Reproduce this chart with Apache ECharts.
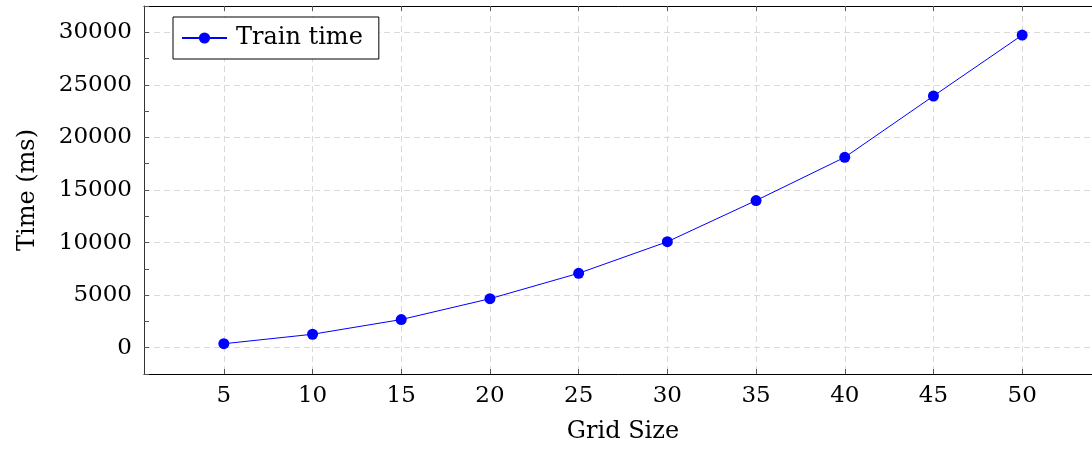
<!DOCTYPE html>
<html>
<head>
<meta charset="utf-8">
<script src="https://cdn.jsdelivr.net/npm/echarts@6/dist/echarts.min.js"></script>
<style>
  html, body { margin: 0; padding: 0; background: #fff; }
  #chart { width: 1092px; height: 450px; }
</style>
</head>
<body>
<div id="chart"></div>
<script>
// Training time per grid size
const gridSizes = [5, 10, 15, 20, 25, 30, 35, 40, 45, 50];
const trainTimeMs = [380, 1280, 2680, 4660, 7080, 10080, 14000, 18110, 23940, 29730];
const xTickValues = [5, 10, 15, 20, 25, 30, 35, 40, 45, 50];
const yTickValues = [0, 5000, 10000, 15000, 20000, 25000, 30000];

const FONT = 'DejaVu Serif';
const gridLineStyle = { color: '#dadada', width: 1, type: [6, 4] };
const plain = v => String(v);

const chart = echarts.init(document.getElementById('chart'), null, { renderer: 'canvas' });

chart.setOption({
  animation: false,
  backgroundColor: '#fff',
  grid: { left: 144, top: 6, right: -10, bottom: 76, containLabel: false, outerBoundsMode: 'none' },
  legend: {
    left: 173,
    top: 17,
    orient: 'vertical',
    backgroundColor: '#fff',
    borderColor: '#000',
    borderWidth: 1,
    borderRadius: 0,
    padding: [9, 16, 9, 8],
    itemWidth: 45,
    itemHeight: 14,
    textStyle: { fontFamily: FONT, fontSize: 24, color: '#000', padding: [0, 0, 0, 4] },
    data: ['Train time']
  },
  xAxis: [
    {
      type: 'value',
      position: 'bottom',
      min: 0.5,
      max: 54.5,
      name: 'Grid Size',
      nameLocation: 'middle',
      nameGap: 46,
      nameTextStyle: { fontFamily: FONT, fontSize: 24, color: '#000' },
      axisLine: { show: true, onZero: false, lineStyle: { color: '#000', width: 1 } },
      axisTick: { show: true, inside: true, length: 5, customValues: xTickValues, lineStyle: { color: '#555' } },
      axisLabel: { show: true, customValues: xTickValues, formatter: plain, fontFamily: FONT, fontSize: 23, color: '#000', margin: 11 },
      splitLine: { show: true, lineStyle: gridLineStyle }
    },
    {
      type: 'value',
      position: 'top',
      min: 0.5,
      max: 54.5,
      axisLine: { show: true, onZero: false, lineStyle: { color: '#000', width: 1 } },
      axisTick: { show: true, inside: true, length: 5, customValues: xTickValues, lineStyle: { color: '#555' } },
      axisLabel: { show: false },
      splitLine: { show: false }
    }
  ],
  yAxis: [
    {
      type: 'value',
      position: 'left',
      min: -2500,
      max: 32500,
      name: 'Time (ms)',
      nameLocation: 'middle',
      nameGap: 104,
      nameTextStyle: { fontFamily: FONT, fontSize: 24, color: '#000' },
      axisLine: { show: true, onZero: false, lineStyle: { color: '#333', width: 1 } },
      axisTick: { show: true, inside: true, length: 5, customValues: yTickValues, lineStyle: { color: '#555' } },
      axisLabel: { show: true, customValues: yTickValues, formatter: plain, fontFamily: FONT, fontSize: 23, color: '#000', margin: 12 },
      splitLine: { show: true, lineStyle: gridLineStyle }
    },
    {
      // minor ticks every 2500
      type: 'value',
      position: 'left',
      min: -2500,
      max: 32500,
      interval: 2500,
      axisLine: { show: false },
      axisTick: { show: true, inside: true, length: 5, lineStyle: { color: '#555' } },
      axisLabel: { show: false },
      splitLine: { show: false }
    }
  ],
  series: [
    {
      name: 'Train time',
      type: 'line',
      xAxisIndex: 0,
      yAxisIndex: 0,
      data: gridSizes.map((g, i) => [g, trainTimeMs[i]]),
      symbol: 'circle',
      symbolSize: 11,
      itemStyle: { color: '#0000ff' },
      lineStyle: { color: '#0000ff', width: 1 }
    }
  ]
});
</script>
</body>
</html>
